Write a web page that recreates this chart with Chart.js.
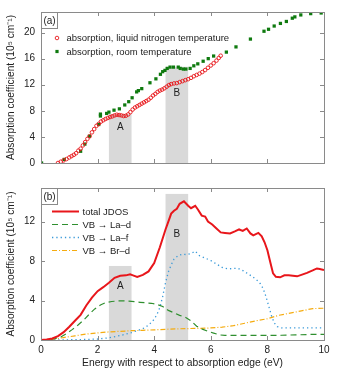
<!DOCTYPE html>
<html><head><meta charset="utf-8">
<script src="https://cdn.jsdelivr.net/npm/chart.js@4/dist/chart.umd.min.js"></script>
<style>
html,body{margin:0;padding:0;background:#fff;}
body{width:341px;height:371px;overflow:hidden;position:relative;}
canvas{position:absolute;left:0;}
</style></head><body>
<canvas id="c1" width="341" height="175" style="top:0px;width:341px;height:175px"></canvas>
<canvas id="c2" width="341" height="196" style="top:175px;width:341px;height:196px"></canvas>
<script>
// ---------- data ----------
const xTicks = [0, 2, 4, 6, 8, 10];
const yTicksTop = [0, 4, 8, 12, 16, 20];
const yTicksBottom = [0, 4, 8, 12];

// panel (a): absorption, liquid nitrogen temperature (open red circles)
const ln2X = [0.60,0.70,0.80,0.90,1.00,1.08,1.16,1.24,1.32,1.40,1.48,1.56,1.64,1.72,1.80,1.88,1.96,2.04,2.12,2.20,2.28,2.36,2.44,2.52,2.60,2.68,2.76,2.84,2.92,3.00,3.08,3.16,3.24,3.32,3.40,3.48,3.56,3.64,3.72,3.80,3.88,3.96,4.04,4.12,4.20,4.28,4.36,4.44,4.52,4.60,4.70,4.80,4.90,5.00,5.10,5.20,5.30,5.40,5.50,5.60,5.70,5.80,5.90,6.00,6.10,6.20,6.28,6.35];
const ln2Y = [0.0,0.2,0.4,0.6,0.85,1.05,1.25,1.5,1.9,2.2,2.7,3.2,3.7,4.1,4.7,5.2,5.7,6.0,6.35,6.55,6.75,6.9,7.05,7.15,7.3,7.4,7.35,7.3,7.2,7.25,7.45,7.8,8.2,8.5,8.7,8.9,9.1,9.3,9.5,9.7,10.0,10.35,10.6,10.9,11.1,11.25,11.45,11.7,11.95,12.1,12.2,12.25,12.4,12.55,12.7,12.85,13.05,13.3,13.5,13.7,13.95,14.25,14.6,14.95,15.3,15.7,16.1,16.45];

// panel (a): absorption, room temperature (filled green squares)
const roomX = [0.02,0.82,1.40,1.55,1.71,2.04,2.10,2.10,2.32,2.40,2.58,2.77,2.96,3.10,3.22,3.38,3.44,3.56,3.85,4.06,4.22,4.30,4.38,4.46,4.56,4.68,4.85,4.92,5.03,5.12,5.27,5.40,5.54,5.73,5.91,6.10,6.55,6.89,7.40,7.88,8.04,8.24,8.46,8.67,8.88,8.97,9.18,9.53,9.90];
const roomY = [0.0,0.55,1.8,2.9,4.1,5.9,7.2,7.5,7.6,7.8,8.1,8.3,8.9,9.4,10.0,10.9,11.1,11.4,12.3,12.9,13.6,14.0,14.2,14.5,14.7,14.7,14.7,14.5,14.4,14.4,14.5,14.9,15.2,15.6,16.0,16.4,17.0,17.8,19.0,20.2,20.5,21.0,21.4,21.7,22.2,22.4,22.7,22.9,23.0];

// panel (b): total JDOS
const jdosX = [0.0,0.2,0.4,0.6,0.8,1.0,1.2,1.4,1.6,1.8,2.0,2.2,2.4,2.6,2.8,3.0,3.15,3.25,3.4,3.6,3.8,4.0,4.2,4.4,4.5,4.6,4.7,4.8,4.9,5.05,5.2,5.3,5.45,5.55,5.68,5.8,5.9,6.05,6.2,6.35,6.5,6.68,6.85,7.0,7.13,7.27,7.4,7.5,7.68,7.8,7.9,8.0,8.1,8.2,8.3,8.45,8.6,8.75,8.9,9.05,9.2,9.4,9.6,9.75,9.85,10.0];
const jdosY = [0.0,0.05,0.15,0.4,0.8,1.35,1.95,2.55,3.5,4.3,4.95,5.35,5.8,6.3,6.5,6.55,6.65,6.55,6.4,6.6,6.95,7.8,9.4,11.2,12.0,12.8,13.1,13.3,13.8,14.05,13.6,13.35,13.6,13.2,12.6,12.5,12.0,11.7,11.3,10.9,10.85,10.8,11.0,11.2,11.05,11.3,10.8,10.6,10.85,10.5,9.9,9.1,7.9,6.75,6.4,6.35,6.55,6.55,6.5,6.45,6.6,6.8,7.05,7.25,7.2,7.08];

// panel (b): VB -> La-d
const ladX = [0.0,0.3,0.5,0.7,0.9,1.1,1.3,1.5,1.7,1.9,2.1,2.3,2.5,2.7,2.9,3.1,3.3,3.5,3.7,3.9,4.1,4.3,4.5,4.7,4.9,5.1,5.3,5.5,5.7,5.9,6.1,6.3,6.5,7.0,7.5,8.0,8.5,9.0,9.5,10.0];
const ladY = [0.0,0.05,0.15,0.3,0.65,1.05,1.5,2.0,2.6,3.15,3.55,3.8,3.9,3.95,3.97,3.93,3.88,3.82,3.77,3.72,3.6,3.4,3.0,2.75,2.5,2.3,1.95,1.4,1.1,0.88,0.7,0.52,0.47,0.47,0.47,0.46,0.48,0.52,0.56,0.58];

// panel (b): VB -> La-f
const lafX = [0.0,0.5,1.0,1.5,2.0,2.4,2.8,3.2,3.6,3.8,4.0,4.1,4.2,4.3,4.4,4.5,4.6,4.7,4.85,5.0,5.15,5.3,5.45,5.6,5.8,6.0,6.2,6.4,6.6,6.8,6.95,7.15,7.4,7.6,7.75,7.85,7.95,8.05,8.15,8.25,8.35,8.5,9.0,9.5,10.0];
const lafY = [0.0,0.0,0.02,0.05,0.1,0.22,0.45,0.75,1.15,1.5,2.1,2.6,3.3,4.4,5.8,6.9,7.6,8.2,8.55,8.7,8.65,8.75,9.0,8.55,8.3,8.05,7.7,7.35,7.2,7.25,7.27,7.0,6.55,6.15,5.7,5.2,4.4,3.4,2.4,1.7,1.35,1.22,1.22,1.22,1.22];

// panel (b): VB -> Br-d
const brdX = [0.0,0.4,0.8,1.2,1.6,2.0,2.4,2.8,3.2,3.6,4.0,4.4,4.8,5.2,5.6,6.0,6.4,6.8,7.2,7.6,8.0,8.4,8.8,9.2,9.6,10.0];
const brdY = [0.0,0.05,0.25,0.42,0.6,0.72,0.82,0.88,0.94,0.98,1.03,1.08,1.13,1.16,1.18,1.22,1.3,1.45,1.7,1.95,2.15,2.5,2.72,2.95,3.18,3.22];

// shaded regions
const regionNames = ['A', 'B'];
const regionStart = [2.4, 4.4];
const regionEnd = [3.2, 5.2];
const regionTopA = [7.5, 14.75];   // panel (a)
const regionTopB = [7.5, 14.8];    // panel (b)
const regionLabelYA = [5.5, 10.7];
const regionLabelYB = [5.4, 10.7];

const legendA = ['absorption, liquid nitrogen temperature', 'absorption, room temperature'];
const legendB = ['total JDOS', 'VB \u2192 La\u2013d', 'VB \u2192 La\u2013f', 'VB \u2192 Br\u2013d'];
const yTitle = 'Absorption coefficient (10\u2075 cm\u207B\u00B9)';
const xTitle = 'Energy with respect to absorption edge (eV)';

// ---------- helpers ----------
const pts = (xs, ys) => xs.map((x, i) => ({x: x, y: ys[i]}));
const FONT = "'Liberation Sans', Arial, Helvetica, sans-serif";
const TXT = '#222';
const FRAME = '#8a8a8a';

const framePlugin = {
  id: 'frame',
  beforeDatasetsDraw(chart, args, o) {
    const {ctx, scales: {x, y}} = chart;
    ctx.save();
    regionStart.forEach((s, i) => {
      const x0 = x.getPixelForValue(s), x1 = x.getPixelForValue(regionEnd[i]);
      const yt = y.getPixelForValue(o.tops[i]), yb = y.getPixelForValue(0);
      ctx.fillStyle = '#d9d9d9';
      ctx.fillRect(x0, yt, x1 - x0, yb - yt);
      ctx.fillStyle = TXT;
      ctx.font = '10px ' + FONT;
      ctx.textAlign = 'center';
      ctx.textBaseline = 'middle';
      ctx.fillText(regionNames[i], (x0 + x1) / 2, y.getPixelForValue(o.labelY[i]));
    });
    ctx.restore();
  },
  afterDatasetsDraw(chart, args, o) {
    const {ctx, chartArea: a, scales: {x, y}} = chart;
    ctx.save();
    // frame
    ctx.strokeStyle = FRAME;
    ctx.lineWidth = 1;
    ctx.strokeRect(Math.round(a.left) + 0.5, Math.round(a.top) + 0.5, Math.round(a.right - a.left), Math.round(a.bottom - a.top));
    // inward ticks
    ctx.beginPath();
    xTicks.forEach(v => {
      const px = Math.round(x.getPixelForValue(v)) + 0.5;
      ctx.moveTo(px, a.bottom); ctx.lineTo(px, a.bottom - 4);
      ctx.moveTo(px, a.top); ctx.lineTo(px, a.top + 4);
    });
    o.yTicks.forEach(v => {
      const py = Math.round(y.getPixelForValue(v)) + 0.5;
      ctx.moveTo(a.left, py); ctx.lineTo(a.left + 4, py);
      ctx.moveTo(a.right, py); ctx.lineTo(a.right - 4, py);
    });
    ctx.stroke();
    // panel label box
    ctx.fillStyle = '#fff';
    ctx.fillRect(a.left + 1, a.top + 1, 15, 15);
    ctx.strokeRect(Math.round(a.left) + 0.5, Math.round(a.top) + 0.5, 16, 16);
    ctx.fillStyle = TXT;
    ctx.font = '10px ' + FONT;
    ctx.textAlign = 'center';
    ctx.textBaseline = 'middle';
    ctx.fillText(o.panel, a.left + 8.5, a.top + 9);
    // legend
    ctx.font = '9.5px ' + FONT;
    ctx.textAlign = 'left';
    o.legend.forEach((label, i) => {
      const ds = chart.data.datasets[i];
      const ry = a.top + o.legendY0 + i * o.legendDy;
      if (o.kind === 'points') {
        const mx = a.left + 16;
        if (ds.pointStyle === 'rect') {
          ctx.fillStyle = ds.pointBackgroundColor;
          ctx.fillRect(mx - 1.6, ry - 1.6, 3.2, 3.2);
        } else {
          ctx.strokeStyle = ds.pointBorderColor;
          ctx.lineWidth = ds.pointBorderWidth;
          ctx.beginPath(); ctx.arc(mx, ry, ds.pointRadius, 0, Math.PI * 2); ctx.stroke();
        }
        ctx.fillStyle = TXT;
        ctx.fillText(label, a.left + 25.5, ry + 0.5);
      } else {
        ctx.strokeStyle = ds.borderColor;
        ctx.lineWidth = ds.borderWidth;
        ctx.setLineDash(ds.borderDash || []);
        ctx.beginPath(); ctx.moveTo(a.left + 11, ry); ctx.lineTo(a.left + 38, ry); ctx.stroke();
        ctx.setLineDash([]);
        ctx.fillStyle = TXT;
        ctx.fillText(label, a.left + 41.5, ry + 0.5);
      }
    });
    ctx.restore();
  }
};

function yAxis(ticksArr, max) {
  return {
    type: 'linear', min: 0, max: max,
    afterBuildTicks: s => { s.ticks = ticksArr.map(v => ({value: v})); },
    afterFit: s => { s.width = 41; },
    grid: {display: false, drawTicks: false},
    border: {display: false},
    ticks: {padding: 6, color: TXT, font: {family: FONT, size: 10}},
    title: {display: true, text: yTitle, color: TXT, font: {family: FONT, size: 10.2}, padding: {top: 5, bottom: 3}}
  };
}

// ---------- chart (a) ----------
new Chart(document.getElementById('c1'), {
  type: 'scatter',
  data: {
    datasets: [
      {label: legendA[0], data: pts(ln2X, ln2Y), pointStyle: 'circle', pointRadius: 1.8,
       pointBorderWidth: 0.9, pointBorderColor: '#e8161b', pointBackgroundColor: 'rgba(255,255,255,0)', showLine: false},
      {label: legendA[1], data: pts(roomX, roomY), pointStyle: 'rect', pointRadius: 2.3,
       pointBorderWidth: 0, pointBorderColor: '#0f7a0f', pointBackgroundColor: '#0f7a0f', showLine: false}
    ]
  },
  options: {
    responsive: false, animation: false, devicePixelRatio: 1,
    layout: {padding: {top: 10, right: 17, left: 0, bottom: 0}},
    plugins: {
      legend: {display: false}, tooltip: {enabled: false},
      frame: {tops: regionTopA, labelY: regionLabelYA, yTicks: yTicksTop, panel: '(a)',
              legend: legendA, kind: 'points', legendY0: 26, legendDy: 13.5}
    },
    scales: {
      x: {type: 'linear', min: 0, max: 10,
          afterBuildTicks: s => { s.ticks = xTicks.map(v => ({value: v})); },
          afterFit: s => { s.height = 11; },
          grid: {display: false, drawTicks: false}, border: {display: false},
          ticks: {display: false}},
      y: yAxis(yTicksTop, 23.15)
    }
  },
  plugins: [framePlugin]
});

// ---------- chart (b) ----------
new Chart(document.getElementById('c2'), {
  type: 'scatter',
  data: {
    datasets: [
      {label: legendB[0], data: pts(jdosX, jdosY), showLine: true, pointRadius: 0,
       borderColor: '#e8161b', borderWidth: 2, tension: 0},
      {label: legendB[1], data: pts(ladX, ladY), showLine: true, pointRadius: 0,
       borderColor: '#2f8f2f', borderWidth: 1.2, borderDash: [6, 4]},
      {label: legendB[2], data: pts(lafX, lafY), showLine: true, pointRadius: 0,
       borderColor: '#3a9ad9', borderWidth: 1.3, borderDash: [1.3, 3]},
      {label: legendB[3], data: pts(brdX, brdY), showLine: true, pointRadius: 0,
       borderColor: '#f5ac10', borderWidth: 1.2, borderDash: [5, 2, 1, 2]}
    ]
  },
  options: {
    responsive: false, animation: false, devicePixelRatio: 1,
    layout: {padding: {top: 13, right: 17, left: 0, bottom: 0}},
    plugins: {
      legend: {display: false}, tooltip: {enabled: false},
      frame: {tops: regionTopB, labelY: regionLabelYB, yTicks: yTicksBottom, panel: '(b)',
              legend: legendB, kind: 'lines', legendY0: 23.5, legendDy: 13}
    },
    scales: {
      x: {type: 'linear', min: 0, max: 10,
          afterBuildTicks: s => { s.ticks = xTicks.map(v => ({value: v})); },
          afterFit: s => { s.height = 31; },
          grid: {display: false, drawTicks: false}, border: {display: false},
          ticks: {padding: 4, color: TXT, maxRotation: 0, font: {family: FONT, size: 10}},
          title: {display: true, text: xTitle, color: TXT, font: {family: FONT, size: 10.3}, padding: {top: 2, bottom: 2}}},
      y: yAxis(yTicksBottom, 15.4)
    }
  },
  plugins: [framePlugin]
});
</script>
</body></html>
